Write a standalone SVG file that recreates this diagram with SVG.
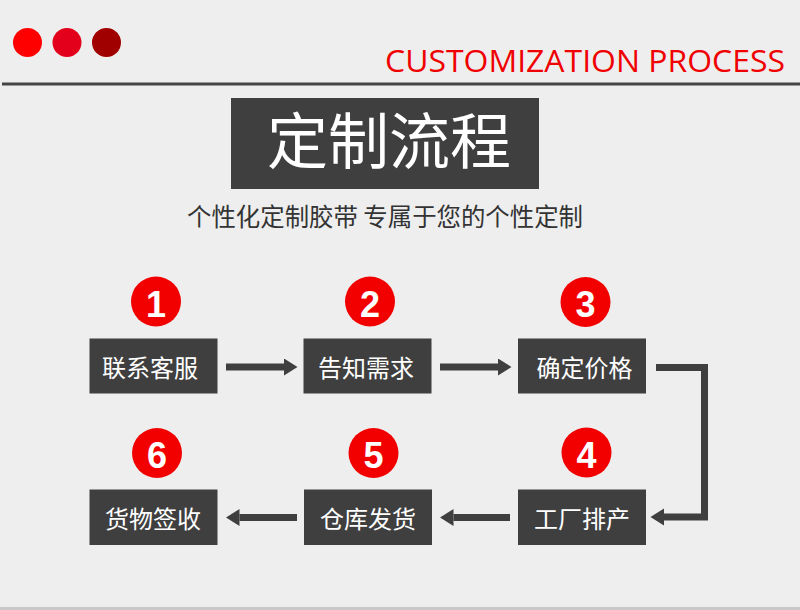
<svg xmlns="http://www.w3.org/2000/svg" width="800" height="610" viewBox="0 0 800 610">
<defs>
<style>
.box{fill:#3f3f3f}
.lbl{fill:#ffffff;font-family:"Noto Sans CJK SC","Noto Sans",sans-serif;font-size:24px;text-anchor:middle}
.num{fill:#ffffff;font-family:"Liberation Sans",Arial,sans-serif;font-weight:bold;font-size:36px;text-anchor:middle}
.badge{fill:#f20000}
.conn{fill:none;stroke:#3f3f3f;stroke-width:7}
</style>
<marker id="ah" markerUnits="userSpaceOnUse" markerWidth="14" markerHeight="18" refX="0" refY="8.5" orient="auto">
<path d="M0,0 L13.5,8.5 L0,17 Z" fill="#3f3f3f"/>
</marker>
</defs>
<rect x="0" y="0" width="800" height="610" fill="#eeeeee"/>
<rect x="0" y="607" width="800" height="3" fill="#c8c8c8"/>
<g id="header">
<circle cx="27.5" cy="42.5" r="14.5" fill="#ff0000"/>
<circle cx="67" cy="42.5" r="14.5" fill="#e2001a"/>
<circle cx="106.5" cy="42.5" r="14.5" fill="#a10000"/>
<text x="785" y="72" font-family="'Open Sans','Noto Sans',sans-serif" font-size="31" fill="#f00000" text-anchor="end" textLength="400" lengthAdjust="spacingAndGlyphs">CUSTOMIZATION PROCESS</text>
<rect x="2" y="82.5" width="798" height="3" fill="#444444"/>
</g>
<g id="title">
<rect x="231" y="98" width="308" height="91" fill="#3f3f3f"/>
<text x="389" y="164" font-family="'Noto Sans CJK SC',sans-serif" font-size="61" fill="#ffffff" text-anchor="middle">定制流程</text>
<text x="385" y="226" font-family="'Noto Sans CJK SC',sans-serif" font-size="24.5" fill="#333333" text-anchor="middle" textLength="396" lengthAdjust="spacingAndGlyphs">个性化定制胶带 专属于您的个性定制</text>
</g>
<g id="connectors">
<line class="conn" x1="226" y1="367" x2="284" y2="367" marker-end="url(#ah)"/>
<line class="conn" x1="440" y1="367" x2="498" y2="367" marker-end="url(#ah)"/>
<polyline class="conn" points="656,367.5 704.5,367.5 704.5,517 664,517" marker-end="url(#ah)"/>
<line class="conn" x1="510" y1="517.5" x2="453.5" y2="517.5" marker-end="url(#ah)"/>
<line class="conn" x1="297" y1="517.5" x2="239.5" y2="517.5" marker-end="url(#ah)"/>
</g>
<g id="step1">
<circle class="badge" cx="156" cy="301.5" r="25"/>
<text class="num" x="156" y="316.5">1</text>
<rect class="box" x="89.5" y="338.5" width="128" height="55"/>
<text class="lbl" x="150" y="377">联系客服</text>
</g>
<g id="step2">
<circle class="badge" cx="370" cy="301.5" r="25"/>
<text class="num" x="370" y="316.5">2</text>
<rect class="box" x="303.5" y="338.5" width="128" height="55"/>
<text class="lbl" x="366" y="377">告知需求</text>
</g>
<g id="step3">
<circle class="badge" cx="585.5" cy="302" r="25"/>
<text class="num" x="585.5" y="317">3</text>
<rect class="box" x="518" y="338.5" width="128" height="55"/>
<text class="lbl" x="584.5" y="377">确定价格</text>
</g>
<g id="step4">
<circle class="badge" cx="586.5" cy="452.5" r="25"/>
<text class="num" x="586.5" y="467.5">4</text>
<rect class="box" x="518" y="489.5" width="128" height="55.5"/>
<text class="lbl" x="582" y="528">工厂排产</text>
</g>
<g id="step5">
<circle class="badge" cx="373.5" cy="453" r="25"/>
<text class="num" x="373.5" y="468">5</text>
<rect class="box" x="304" y="489.5" width="128" height="55.5"/>
<text class="lbl" x="368" y="528">仓库发货</text>
</g>
<g id="step6">
<circle class="badge" cx="157" cy="453" r="25"/>
<text class="num" x="157" y="468">6</text>
<rect class="box" x="89.5" y="489.5" width="128" height="55.5"/>
<text class="lbl" x="153" y="528">货物签收</text>
</g>
</svg>
